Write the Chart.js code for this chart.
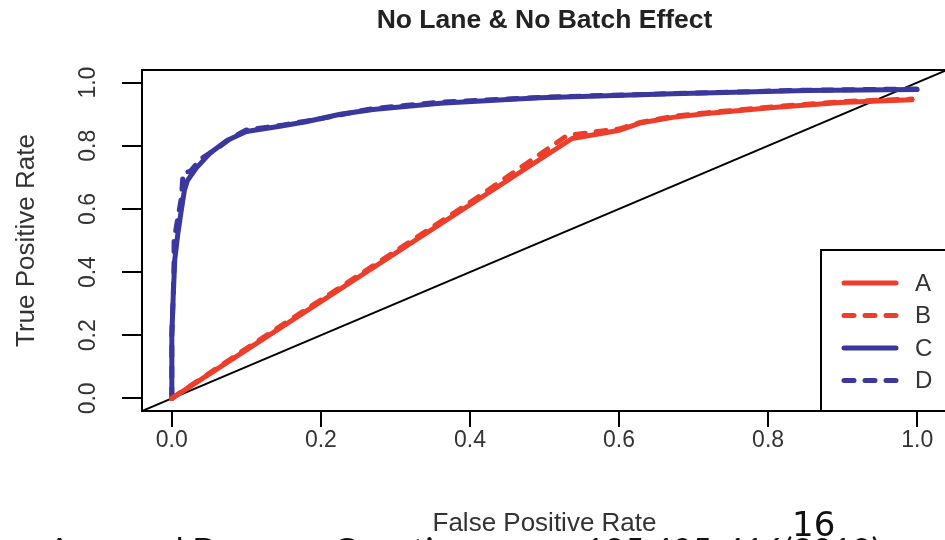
<!DOCTYPE html>
<html lang="en">
<head>
<meta charset="UTF-8">
<title>No Lane & No Batch Effect</title>
<script src="https://cdn.jsdelivr.net/npm/chart.js"></script>
<style>
  html, body { margin: 0; padding: 0; background: #fff; overflow: hidden; }
  .chartBox { position: relative; width: 960px; height: 540px; }
</style>
</head>
<body>
<div class="chartBox"><canvas id="myChart" width="960" height="540"></canvas></div>
<script>
  // ROC curves: [FPR, TPR]
  const seriesNames = ['A', 'B', 'C', 'D'];
  const curveA = [[0, 0], [0.537, 0.823], [0.584, 0.842], [0.6, 0.849], [0.628, 0.872], [0.672, 0.89],
                  [0.718, 0.902], [0.807, 0.921], [0.897, 0.937], [0.993, 0.946]];
  const curveB = [[0, 0], [0.1, 0.158], [0.2, 0.312], [0.3, 0.466], [0.4, 0.62], [0.53, 0.832],
                  [0.58, 0.848], [0.6, 0.853], [0.63, 0.875], [0.672, 0.893], [0.72, 0.905],
                  [0.81, 0.924], [0.9, 0.94], [0.993, 0.948]];
  const curveC = [[0, 0], [0, 0.2], [0.002, 0.33], [0.004, 0.44], [0.008, 0.52], [0.013, 0.6],
                  [0.017, 0.66], [0.021, 0.69], [0.033, 0.73], [0.051, 0.776], [0.074, 0.817],
                  [0.1, 0.845], [0.145, 0.862], [0.18, 0.876], [0.226, 0.9], [0.27, 0.915],
                  [0.36, 0.935], [0.494, 0.952], [0.672, 0.965], [0.852, 0.975], [1.0, 0.978]];
  const curveD = [[0, 0], [0, 0.2], [0.002, 0.33], [0.003, 0.43], [0.003, 0.5], [0.008, 0.57],
                  [0.013, 0.637], [0.015, 0.713], [0.025, 0.72], [0.04, 0.76], [0.06, 0.79],
                  [0.08, 0.825], [0.1, 0.85], [0.15, 0.866], [0.2, 0.886], [0.27, 0.918],
                  [0.36, 0.938], [0.5, 0.954], [0.7, 0.967], [0.85, 0.976], [1.0, 0.98]];
  const diagonal = [[-0.04, -0.04], [1.04, 1.04]];
  const xTicks = [0, 0.2, 0.4, 0.6, 0.8, 1.0];
  const yTicks = [0, 0.2, 0.4, 0.6, 0.8, 1.0];

  const RED = 'rgb(236, 62, 42)';
  const BLUE = 'rgb(58, 56, 158)';
  const TEXT = '#333';
  const FONT = '"Liberation Sans", Arial, sans-serif';

  function pts(arr) { return arr.map(p => ({x: p[0], y: p[1]})); }

  const styles = [
    {color: RED, dash: []},
    {color: RED, dash: [10, 11]},
    {color: BLUE, dash: []},
    {color: BLUE, dash: [10, 11]}
  ];

  const datasets = [curveA, curveB, curveC, curveD].map((c, i) => ({
    label: seriesNames[i],
    data: pts(c),
    borderColor: styles[i].color,
    borderWidth: 5,
    borderDash: styles[i].dash,
    borderCapStyle: 'round',
    borderJoinStyle: 'round',
    pointRadius: 0,
    tension: 0,
    fill: false
  }));
  datasets.push({
    label: 'diag',
    data: pts(diagonal),
    borderColor: '#000',
    borderWidth: 2,
    pointRadius: 0,
    tension: 0
  });

  // box, tick labels, titles, legend
  const decor = {
    id: 'decor',
    afterDraw(chart) {
      const ctx = chart.ctx;
      const a = chart.chartArea;
      const xs = chart.scales.x, ys = chart.scales.y;
      ctx.save();
      ctx.strokeStyle = '#000';
      ctx.lineWidth = 2;
      ctx.strokeRect(a.left, a.top, a.right - a.left, a.bottom - a.top);

      ctx.fillStyle = TEXT;
      ctx.font = '23px ' + FONT;
      ctx.textAlign = 'center';
      ctx.textBaseline = 'middle';
      xs.ticks.forEach(t => ctx.fillText(t.value.toFixed(1), xs.getPixelForValue(t.value), 441));
      ys.ticks.forEach(t => {
        ctx.save();
        ctx.translate(89, ys.getPixelForValue(t.value));
        ctx.rotate(-Math.PI / 2);
        ctx.fillText(t.value.toFixed(1), 0, 0);
        ctx.restore();
      });

      ctx.font = '26px ' + FONT;
      ctx.fillText('False Positive Rate', (a.left + a.right) / 2, 524);
      ctx.save();
      ctx.translate(27, (a.top + a.bottom) / 2);
      ctx.rotate(-Math.PI / 2);
      ctx.fillText('True Positive Rate', 0, 0);
      ctx.restore();

      ctx.fillStyle = '#222';
      ctx.font = 'bold 26.5px ' + FONT;
      ctx.fillText('No Lane & No Batch Effect', (a.left + a.right) / 2, 21);

      // legend
      const lx = 821, ly = 250;
      ctx.fillStyle = '#fff';
      ctx.fillRect(lx, ly, a.right - lx, a.bottom - ly);
      ctx.strokeStyle = '#000';
      ctx.lineWidth = 2;
      ctx.strokeRect(lx, ly, a.right - lx + 10, a.bottom - ly);
      ctx.textAlign = 'left';
      ctx.font = '24px ' + FONT;
      seriesNames.forEach((n, i) => {
        const yy = 283 + i * 32.5;
        ctx.beginPath();
        ctx.strokeStyle = styles[i].color;
        ctx.lineWidth = 5;
        ctx.lineCap = 'round';
        ctx.setLineDash(styles[i].dash);
        ctx.moveTo(844, yy);
        ctx.lineTo(896, yy);
        ctx.stroke();
        ctx.setLineDash([]);
        ctx.fillStyle = TEXT;
        ctx.fillText(n, 915, yy + 1);
      });

      // slide footer
      ctx.fillStyle = '#111';
      ctx.font = '34px "DejaVu Sans", sans-serif';
      ctx.textBaseline = 'alphabetic';
      ctx.fillText('16', 792, 536);
      ctx.font = '34px Lato, sans-serif';
      ctx.fillText('Auer and Doerge,', 48, 563);
      ctx.fillText('Genetics', 333, 563);
      ctx.fillText('185:405-416(2010)', 585, 563);
      ctx.restore();
    }
  };

  const config = {
    type: 'line',
    data: { datasets },
    options: {
      responsive: false,
      animation: false,
      events: [],
      layout: { padding: { left: 0, top: 70, right: 13, bottom: 0 } },
      plugins: { legend: { display: false }, tooltip: { enabled: false }, title: { display: false } },
      scales: {
        x: {
          type: 'linear', min: -0.04, max: 1.04,
          afterBuildTicks: s => { s.ticks = xTicks.map(v => ({value: v})); },
          afterFit: s => { s.height = 129; },
          grid: { drawOnChartArea: false, drawTicks: true, tickLength: 16, color: '#000', lineWidth: 2 },
          border: { display: true, color: '#000', width: 2 },
          ticks: { display: false }
        },
        y: {
          type: 'linear', min: -0.04, max: 1.04,
          afterBuildTicks: s => { s.ticks = yTicks.map(v => ({value: v})); },
          afterFit: s => { s.width = 142; },
          grid: { drawOnChartArea: false, drawTicks: true, tickLength: 20, color: '#000', lineWidth: 2 },
          border: { display: true, color: '#000', width: 2 },
          ticks: { display: false }
        }
      }
    },
    plugins: [decor]
  };

  const myChart = new Chart(document.getElementById('myChart'), config);
</script>
</body>
</html>
